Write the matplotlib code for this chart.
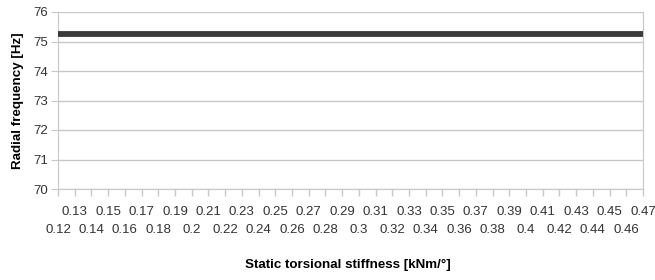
import numpy as np
import matplotlib
matplotlib.use("Agg")
import matplotlib.pyplot as plt

plt.rcParams['font.family'] = ['Liberation Sans', 'DejaVu Sans']

# categories (static torsional stiffness, kNm/deg)
stiffness = ['0.12', '0.13', '0.14', '0.15', '0.16', '0.17', '0.18', '0.19',
             '0.2', '0.21', '0.22', '0.23', '0.24', '0.25', '0.26', '0.27',
             '0.28', '0.29', '0.3', '0.31', '0.32', '0.33', '0.34', '0.35',
             '0.36', '0.37', '0.38', '0.39', '0.4', '0.41', '0.42', '0.43',
             '0.44', '0.45', '0.46', '0.47']
# radial frequency, Hz
frequency = [75.25] * len(stiffness)

yticks = [70, 71, 72, 73, 74, 75, 76]

fig = plt.figure(figsize=(6.55, 2.8), dpi=100)
ax = fig.add_axes([58 / 655, 1 - 189 / 280, (643 - 58) / 655, (189 - 12) / 280])

x = np.arange(len(stiffness))
ax.plot(x, frequency, color='#3a3a3a', lw=4.2, solid_capstyle='butt', zorder=3)

ax.set_xlim(0, len(stiffness) - 1)
ax.set_ylim(70, 76)
ax.set_yticks(yticks)
ax.set_yticklabels([str(v) for v in yticks])

# staggered category labels: even ones on the lower row (major), odd ones on the upper row (minor)
ax.set_xticks(x[::2])
ax.set_xticklabels(stiffness[::2])
ax.set_xticks(x[1::2], minor=True)
ax.set_xticklabels(stiffness[1::2], minor=True)

grid_c = '#c8c8c8'
ax.grid(axis='y', color=grid_c, lw=1)
ax.set_axisbelow(True)
for side in ['left', 'right']:
    ax.spines[side].set_color(grid_c)
ax.spines['top'].set_visible(False)
ax.spines['bottom'].set_color(grid_c)

fs = 9.5
ax.tick_params(axis='x', which='both', length=5, width=1, color=grid_c, labelsize=fs, labelcolor='#333333')
ax.tick_params(axis='x', which='major', pad=20)
ax.tick_params(axis='x', which='minor', pad=7)
ax.tick_params(axis='y', length=5, color=grid_c, labelsize=fs, labelcolor='#333333', pad=2)

ax.set_ylabel('Radial frequency [Hz]', fontsize=9.6, fontweight='bold', labelpad=7)
fig.text(348 / 655, 1 - 265 / 280, 'Static torsional stiffness [kNm/°]',
         ha='center', va='center', fontsize=9.6, fontweight='bold')

fig.savefig('out.png', dpi=100)
